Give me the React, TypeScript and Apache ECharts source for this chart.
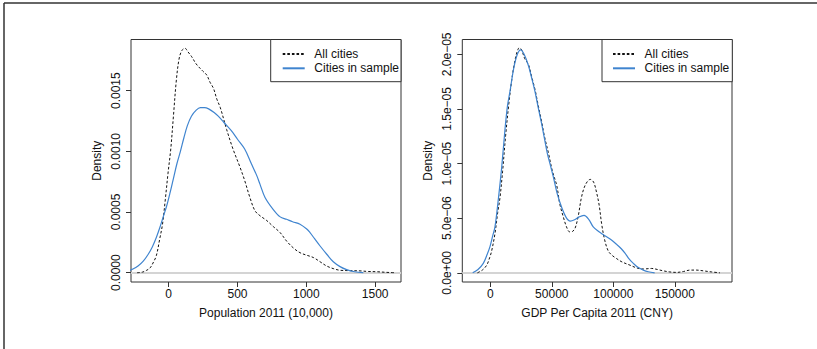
import React, { useEffect, useRef } from "react";
import * as echarts from "echarts";

// ---------- Left panel: Population 2011 (10,000) ----------
const popAllX = [-230, -190, -160, -135, -114, -90, -65, -45, -25, -5, 15, 35, 55, 75, 95, 118, 140, 167, 200, 249, 276, 300, 325, 350, 375, 421, 467, 518, 552, 590, 627, 663, 712, 760, 810, 857, 910, 954, 1000, 1051, 1100, 1148, 1200, 1245, 1320, 1390, 1450, 1511, 1580, 1640];
const popAllY = [0, 0.05e-4, 0.2e-4, 0.4e-4, 0.8e-4, 1.4e-4, 2.8e-4, 4.0e-4, 6.0e-4, 8.2e-4, 10.2e-4, 13.0e-4, 15.8e-4, 17.6e-4, 18.3e-4, 18.5e-4, 18.2e-4, 17.8e-4, 17.2e-4, 16.6e-4, 16.3e-4, 15.7e-4, 15.2e-4, 14.3e-4, 13.6e-4, 11.8e-4, 10.2e-4, 8.7e-4, 7.6e-4, 6.2e-4, 5.1e-4, 4.7e-4, 4.3e-4, 3.8e-4, 3.3e-4, 2.6e-4, 2.0e-4, 1.65e-4, 1.45e-4, 1.25e-4, 0.9e-4, 0.55e-4, 0.32e-4, 0.2e-4, 0.17e-4, 0.15e-4, 0.1e-4, 0.08e-4, 0.03e-4, 0];

const popSampleX = [-341, -300, -260, -223, -185, -150, -120, -90, -65, -40, -15, 10, 35, 60, 85, 110, 135, 165, 200, 230, 260, 290, 330, 360, 400, 455, 500, 552, 600, 640, 663, 700, 760, 810, 857, 900, 954, 1003, 1027, 1060, 1100, 1150, 1196, 1245, 1293, 1350, 1414];
const popSampleY = [0.02e-4, 0.12e-4, 0.3e-4, 0.55e-4, 0.95e-4, 1.5e-4, 2.1e-4, 2.9e-4, 3.7e-4, 4.6e-4, 5.5e-4, 6.6e-4, 7.8e-4, 9.0e-4, 10.0e-4, 11.1e-4, 12.1e-4, 12.9e-4, 13.4e-4, 13.6e-4, 13.6e-4, 13.5e-4, 13.2e-4, 12.9e-4, 12.4e-4, 11.7e-4, 11.0e-4, 10.2e-4, 9.0e-4, 8.0e-4, 7.3e-4, 6.2e-4, 5.2e-4, 4.6e-4, 4.4e-4, 4.2e-4, 4.0e-4, 3.6e-4, 3.3e-4, 2.8e-4, 2.2e-4, 1.5e-4, 0.9e-4, 0.5e-4, 0.25e-4, 0.08e-4, 0];

const popXTicks = [0, 500, 1000, 1500];
const popYTicks = [0, 0.0005, 0.001, 0.0015];

// ---------- Right panel: GDP Per Capita 2011 (CNY) ----------
const gdpAllX = [-10500, -6500, -2900, -500, 1100, 3800, 6000, 7900, 10000, 12500, 15000, 17500, 20000, 22000, 23600, 25500, 28000, 30900, 33500, 36300, 39000, 41800, 44000, 47200, 50500, 54000, 56500, 59400, 62000, 64500, 67000, 69000, 71500, 74300, 77500, 81300, 84000, 86500, 88500, 90500, 93000, 95900, 99000, 102700, 107000, 113600, 119000, 124400, 131200, 136000, 140700, 146000, 151500, 157000, 162400, 167500, 173200, 180000, 186700];
const gdpAllY = [0, 0.25e-6, 0.7e-6, 1.4e-6, 2.0e-6, 3.6e-6, 5.5e-6, 6.9e-6, 9.3e-6, 12.6e-6, 15.4e-6, 17.7e-6, 19.4e-6, 20.3e-6, 20.6e-6, 20.4e-6, 19.6e-6, 19.1e-6, 18.0e-6, 16.8e-6, 15.3e-6, 13.8e-6, 12.5e-6, 11.0e-6, 9.3e-6, 8.0e-6, 6.3e-6, 5.1e-6, 4.2e-6, 3.75e-6, 3.8e-6, 4.1e-6, 5.2e-6, 7.0e-6, 8.1e-6, 8.55e-6, 8.3e-6, 7.3e-6, 6.2e-6, 4.5e-6, 3.0e-6, 2.0e-6, 1.6e-6, 1.3e-6, 1.0e-6, 0.7e-6, 0.45e-6, 0.35e-6, 0.4e-6, 0.3e-6, 0.18e-6, 0.08e-6, 0.04e-6, 0.12e-6, 0.25e-6, 0.25e-6, 0.18e-6, 0.08e-6, 0];

const gdpSampleX = [-14300, -10000, -5700, -2500, -250, 2000, 3800, 6500, 9300, 12000, 14000, 16000, 19000, 22000, 24700, 27500, 30900, 33500, 36300, 39000, 41800, 44000, 46400, 48500, 51200, 54500, 58000, 61500, 65000, 68500, 72000, 76200, 80000, 83700, 87800, 91000, 94600, 98500, 102700, 106500, 109500, 113000, 116300, 120000, 124400, 128500, 133600];
const gdpSampleY = [0, 0.3e-6, 0.86e-6, 1.7e-6, 2.4e-6, 3.4e-6, 4.2e-6, 6.7e-6, 9.7e-6, 13.2e-6, 15.3e-6, 16.6e-6, 18.7e-6, 20.0e-6, 20.4e-6, 20.0e-6, 19.0e-6, 17.9e-6, 16.6e-6, 15.1e-6, 13.6e-6, 12.3e-6, 10.9e-6, 10.0e-6, 8.8e-6, 7.2e-6, 6.0e-6, 5.1e-6, 4.73e-6, 4.85e-6, 5.1e-6, 5.25e-6, 4.9e-6, 4.2e-6, 3.8e-6, 3.55e-6, 3.3e-6, 3.0e-6, 2.6e-6, 2.2e-6, 1.8e-6, 1.25e-6, 0.86e-6, 0.5e-6, 0.25e-6, 0.1e-6, 0];

const gdpXTicks = [0, 50000, 100000, 150000];
const gdpYTicks = [0, 5e-6, 1e-5, 1.5e-5, 2e-5];
const gdpYLabels = ["0.0e+00", "5.0e\u221206", "1.0e\u221205", "1.5e\u221205", "2.0e\u221205"];

const seriesNames = ["All cities", "Cities in sample"];
const FONT = "'Liberation Sans', Arial, Helvetica, sans-serif";
const BLUE = "#3f84cf";
const BOX = "#333";

function pairs(xs: number[], ys: number[]) {
  return xs.map((x, i) => [x, ys[i]]);
}

export default function App() {
  const ref = useRef<HTMLDivElement>(null);
  useEffect(() => {
    if (!ref.current) return;
    const chart = echarts.init(ref.current, undefined, { renderer: "svg" });
    const textStyle = { fontFamily: FONT, fontSize: 12, color: "#111" };
    const grids = [
      { left: 131, right: 416, top: 39.5, bottom: 67 },
      { left: 462.3, right: 85, top: 39.5, bottom: 67 },
    ].map((g) => ({ ...g, show: true, borderColor: BOX, borderWidth: 1, backgroundColor: "transparent", containLabel: false }));

    const xAxis = (gi: number, min: number, max: number, ticks: number[], name: string) => ({
      gridIndex: gi,
      type: "value",
      min,
      max,
      position: "bottom",
      axisLine: { show: false, onZero: false },
      axisTick: { show: true, length: 5, customValues: ticks, lineStyle: { color: BOX, width: 1 } },
      axisLabel: { customValues: ticks, margin: 6, formatter: (v: number) => String(v), ...textStyle },
      splitLine: { show: false },
      name,
      nameLocation: "middle",
      nameGap: 25,
      nameTextStyle: textStyle,
    });
    const yAxis = (gi: number, min: number, max: number, ticks: number[], fmt: (v: number) => string) => ({
      gridIndex: gi,
      type: "value",
      min,
      max,
      position: "left",
      axisLine: { show: false, onZero: false },
      axisTick: { show: true, length: 5, customValues: ticks, lineStyle: { color: BOX, width: 1 } },
      axisLabel: { customValues: ticks, margin: 9, rotate: 90, formatter: fmt, ...textStyle },
      splitLine: { show: false },
      name: "Density",
      nameLocation: "middle",
      nameGap: 28,
      nameRotate: 90,
      nameTextStyle: textStyle,
    });

    const dashed = (gi: number, data: number[][]) => ({
      name: seriesNames[0],
      type: "line",
      xAxisIndex: gi,
      yAxisIndex: gi,
      data,
      smooth: 0.35,
      symbol: "none",
      lineStyle: { color: "#111", width: 1, type: [2.6, 2] },
      itemStyle: { color: "#111" },
      z: 3,
      markLine: {
        silent: true,
        symbol: "none",
        label: { show: false },
        lineStyle: { color: "#d4d4d4", width: 2, type: "solid" },
        data: [{ yAxis: 0 }],
        z: 1,
      },
    });
    const solid = (gi: number, data: number[][]) => ({
      name: seriesNames[1],
      type: "line",
      xAxisIndex: gi,
      yAxisIndex: gi,
      data,
      smooth: 0.35,
      symbol: "none",
      clip: false,
      lineStyle: { color: BLUE, width: 1.2 },
      itemStyle: { color: BLUE },
      z: 4,
    });

    const legend = (left: number) => ({
      left,
      top: 48,
      orient: "vertical",
      padding: 0,
      itemWidth: 22,
      itemHeight: 12,
      itemGap: 2.3,
      data: seriesNames,
      itemStyle: { opacity: 0 },
      textStyle: { ...textStyle, padding: [0, 0, 0, 4.6] },
      selectedMode: false,
      z: 10,
    });

    chart.setOption({
      animation: false,
      textStyle: { fontFamily: FONT },
      grid: grids,
      xAxis: [
        xAxis(0, -274, 1688, popXTicks, "Population 2011 (10,000)"),
        xAxis(1, -22760, 196500, gdpXTicks, "GDP Per Capita 2011 (CNY)"),
      ],
      yAxis: [
        yAxis(0, -0.0000767, 0.001922, popYTicks, (v: number) => v.toFixed(4)),
        yAxis(1, -8.4e-7, 2.1355e-5, gdpYTicks, (v: number) => {
          let best = 0;
          gdpYTicks.forEach((t, i) => {
            if (Math.abs(t - v) < Math.abs(gdpYTicks[best] - v)) best = i;
          });
          return gdpYLabels[best];
        }),
      ],
      legend: [legend(281.7), legend(612)],
      graphic: [
        { type: "line", shape: { x1: 4, y1: 3, x2: 817, y2: 3 }, style: { stroke: BOX, lineWidth: 1.5 }, z: 0 },
        { type: "line", shape: { x1: 4, y1: 3, x2: 4, y2: 349 }, style: { stroke: BOX, lineWidth: 1.5 }, z: 0 },
        { type: "rect", shape: { x: 270.7, y: 39.5, width: 130.3, height: 42.2 }, style: { fill: "#fff", stroke: BOX, lineWidth: 1 }, z: 5 },
        { type: "rect", shape: { x: 602, y: 39.5, width: 130.3, height: 42.2 }, style: { fill: "#fff", stroke: BOX, lineWidth: 1 }, z: 5 },
      ],
      series: [
        dashed(0, pairs(popAllX, popAllY)),
        solid(0, pairs(popSampleX, popSampleY)),
        dashed(1, pairs(gdpAllX, gdpAllY)),
        solid(1, pairs(gdpSampleX, gdpSampleY)),
      ],
    });
    return () => chart.dispose();
  }, []);
  return <div ref={ref} style={{ position: "fixed", left: 0, top: 0, width: 817, height: 349, background: "#fff" }} />;
}
